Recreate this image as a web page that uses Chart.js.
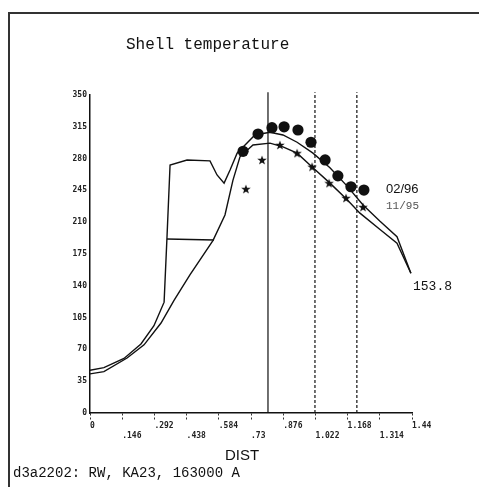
<!DOCTYPE html>
<html>
<head>
<meta charset="utf-8">
<script src="https://cdn.jsdelivr.net/npm/chart.js@4"></script>
<style>
  body { margin: 0; background: #fff; }
  #wrap { position: relative; width: 479px; height: 487px; overflow: hidden; }
  #shellChart { position: absolute; left: 0; top: 0; }
  .txt { position: absolute; white-space: nowrap; color: #111; }
  #frame { position: absolute; left: 8px; top: 12px; width: 480px; height: 480px;
           border-top: 2px solid #333; border-left: 2px solid #333; }
</style>
</head>
<body>
<div id="wrap">
  <div id="frame"></div>
  <canvas id="shellChart" width="479" height="487"></canvas>
  <div class="txt" style="left:126px;top:37px;font:16px/16px 'Liberation Mono';">Shell temperature</div>
  <div class="txt" style="left:225px;top:447px;font:15px/15px 'Liberation Sans';">DIST</div>
  <div class="txt" style="left:13px;top:466px;font:14px/14px 'Liberation Mono';">d3a2202: RW, KA23, 163000 A</div>
  <div class="txt" style="left:386px;top:182px;font:13px/13px 'Liberation Sans';">02/96</div>
  <div class="txt" style="left:386px;top:201px;font:11px/11px 'Liberation Mono';color:#555;">11/95</div>
  <div class="txt" style="left:413px;top:280px;font:13px/13px 'Liberation Mono';">153.8</div>
</div>
<script>
// curve with the plateau (upper one)
const upperX = [0, 0.063, 0.154, 0.231, 0.29, 0.336, 0.349, 0.363, 0.44, 0.544, 0.576, 0.608, 0.635, 0.667, 0.703, 0.748, 0.816, 0.875, 0.939, 1.011, 1.088, 1.165, 1.238, 1.315, 1.392, 1.455];
const upperY = [47, 50, 60, 76, 96, 122, 193, 273, 278.5, 277.5, 262, 253, 267.5, 286, 295, 306, 309, 306, 298, 286, 270, 250, 229, 211, 194, 153.8];

const lowerX = [0, 0.063, 0.168, 0.245, 0.322, 0.381, 0.453, 0.558, 0.612, 0.648, 0.68, 0.739, 0.816, 0.875, 0.939, 1.011, 1.088, 1.165, 1.224, 1.315, 1.392, 1.455];
const lowerY = [43, 45.5, 60.5, 75, 99, 124, 152, 190, 218, 256, 282, 295, 297, 293, 286, 270, 253, 235, 220, 202, 187, 153.8];

// short horizontal segment
const segX = [0.349, 0.562];
const segY = [191.5, 190.4];

// measured points
const feb96X = [0.694, 0.762, 0.825, 0.88, 0.943, 1.002, 1.066, 1.124, 1.183, 1.242];
const feb96Y = [288, 307, 314, 315, 311.5, 298, 278.5, 261, 249, 245.4];
const nov95X = [0.707, 0.78, 0.861, 0.939, 1.007, 1.084, 1.161, 1.238];
const nov95Y = [246.5, 278.5, 295, 286, 271, 253, 236.6, 226.7];

// vertical markers
const solidLineX = 0.807;
const dashedLinesX = [1.02, 1.21];

const xTicks = [0, 0.146, 0.292, 0.438, 0.584, 0.73, 0.876, 1.022, 1.168, 1.314, 1.46];
const xTickLabels = ['0', '.146', '.292', '.438', '.584', '.73', '.876', '1.022', '1.168', '1.314', '1.44'];
const yTicks = [0, 35, 70, 105, 140, 175, 210, 245, 280, 315, 350];

function pts(xs, ys) {
    return xs.map((x, i) => ({x: x, y: ys[i]}));
}

// filled five point star
const star = document.createElement('canvas');
star.width = 10;
star.height = 10;
const sc = star.getContext('2d');
sc.beginPath();
for (let i = 0; i < 10; i++) {
    const r = i % 2 ? 2 : 5;
    const a = -Math.PI / 2 + i * Math.PI / 5;
    sc.lineTo(5 + r * Math.cos(a), 5.4 + r * Math.sin(a));
}
sc.closePath();
sc.fillStyle = '#111';
sc.fill();

const lineStyle = {showLine: true, borderColor: '#111', borderWidth: 1.4, pointRadius: 0, tension: 0};

const datasets = [
    Object.assign({label: 'upper', data: pts(upperX, upperY)}, lineStyle),
    Object.assign({label: 'lower', data: pts(lowerX, lowerY)}, lineStyle),
    Object.assign({label: 'seg', data: pts(segX, segY)}, lineStyle),
    Object.assign({label: 'solid', data: [{x: solidLineX, y: 0}, {x: solidLineX, y: 353}], clip: false}, lineStyle, {borderWidth: 1.2}),
];
dashedLinesX.forEach((x, i) => {
    datasets.push(Object.assign({label: 'dash' + i, data: [{x: x, y: 0}, {x: x, y: 353}], clip: false}, lineStyle, {borderWidth: 1.2, borderDash: [3, 2]}));
});
datasets.push({label: '02/96', data: pts(feb96X, feb96Y), pointRadius: 5.6, pointBackgroundColor: '#111', pointBorderWidth: 0, showLine: false});
datasets.push({label: '11/95', data: pts(nov95X, nov95Y), pointStyle: star, pointRadius: 5, showLine: false});

new Chart(document.getElementById('shellChart'), {
    type: 'scatter',
    data: {datasets: datasets},
    options: {
        responsive: false,
        animation: false,
        events: [],
        layout: {padding: {top: 95, right: 67, bottom: 0, left: 0}},
        plugins: {legend: {display: false}, tooltip: {enabled: false}},
        scales: {
            x: {
                type: 'linear',
                min: 0,
                max: 1.46,
                afterBuildTicks: s => { s.ticks = xTicks.map(v => ({value: v})); },
                afterFit: s => { s.height = 74; },
                border: {color: '#111', width: 1.5},
                grid: {drawOnChartArea: false, drawTicks: true, tickLength: 8, tickColor: '#333', tickBorderDash: [2, 2], tickWidth: 1},
                ticks: {
                    align: 'start',
                    padding: 0,
                    maxRotation: 0,
                    autoSkip: false,
                    color: '#222',
                    font: {family: 'DejaVu Sans Mono', size: 8, weight: 'bold', lineHeight: 1.25},
                    callback: (v, i) => i % 2 ? ['', xTickLabels[i]] : xTickLabels[i]
                }
            },
            y: {
                min: 0,
                max: 350,
                afterBuildTicks: s => { s.ticks = yTicks.map(v => ({value: v})); },
                afterFit: s => { s.width = 90; },
                border: {color: '#111', width: 1.5},
                grid: {drawOnChartArea: false, drawTicks: false},
                ticks: {
                    padding: 3,
                    autoSkip: false,
                    color: '#222',
                    font: {family: 'DejaVu Sans Mono', size: 8, weight: 'bold'}
                }
            }
        }
    }
});
</script>
</body>
</html>
